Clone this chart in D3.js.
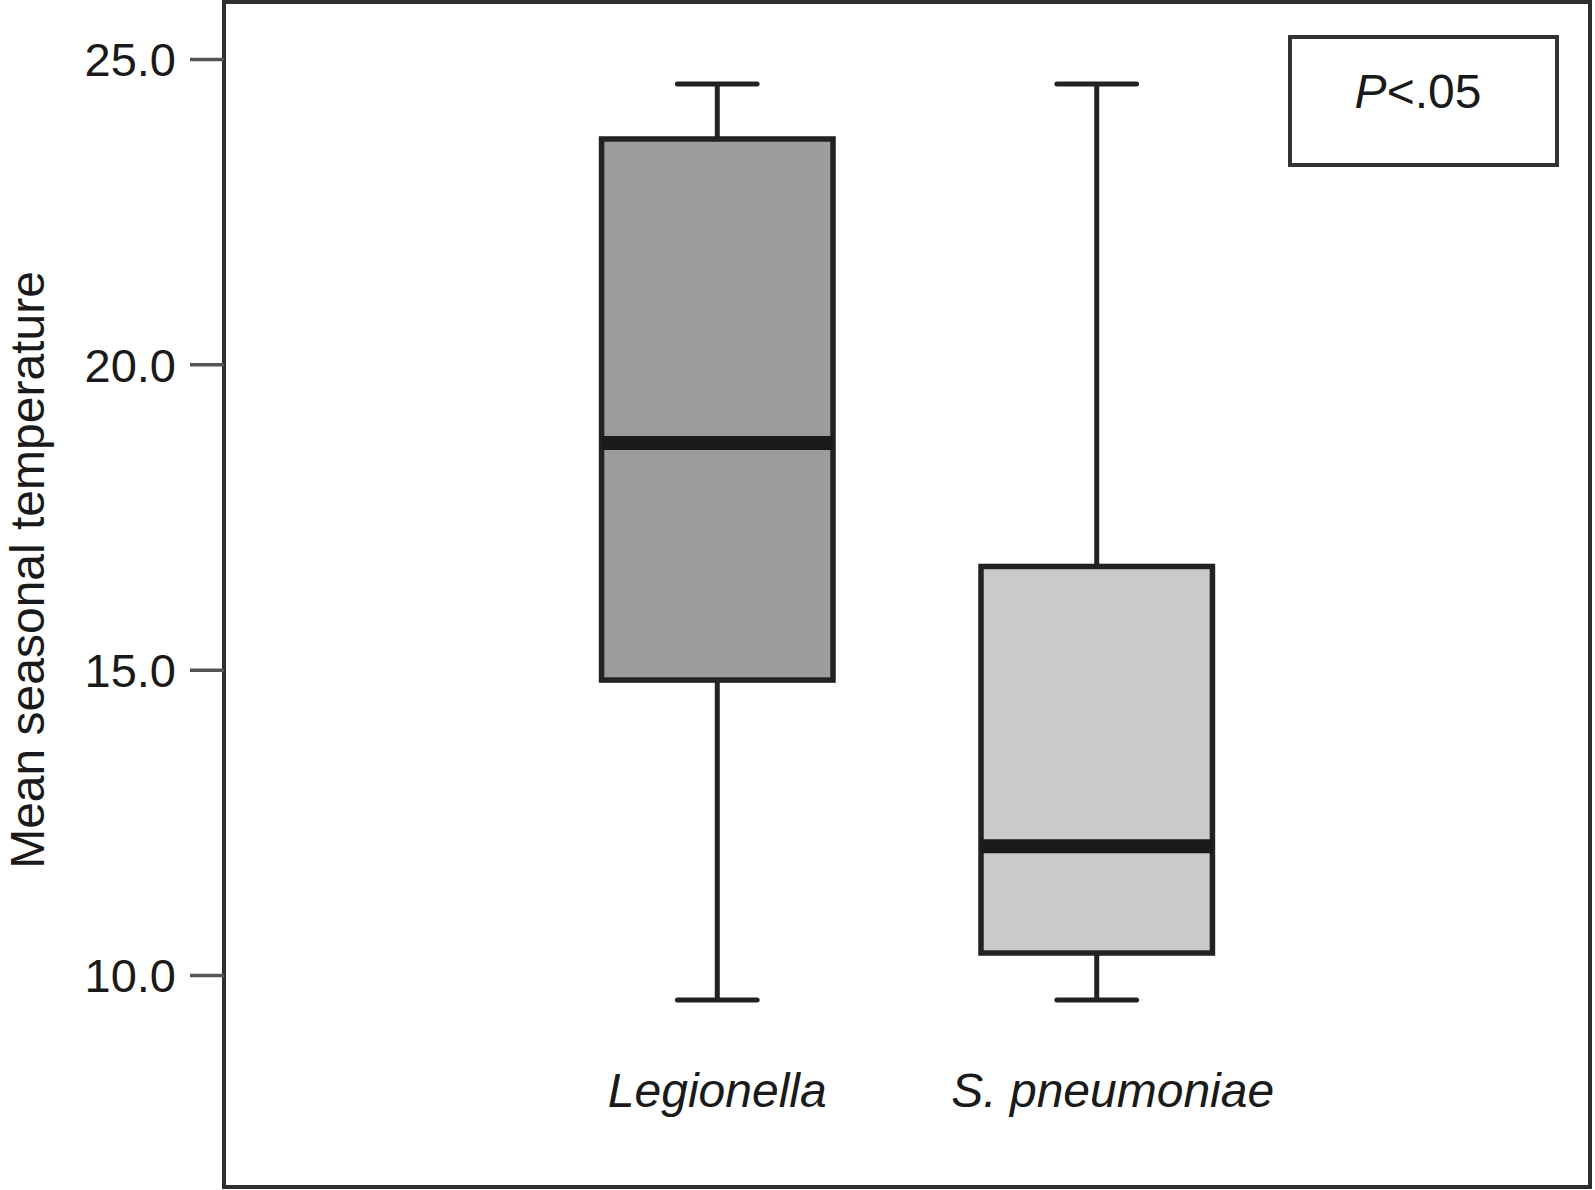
<!DOCTYPE html>
<html>
<head>
<meta charset="utf-8">
<script src="https://cdn.jsdelivr.net/npm/d3@7"></script>
<style>
  html, body { margin: 0; padding: 0; background: #fff; }
  svg { display: block; font-family: "Liberation Sans", Arial, Helvetica, sans-serif; }
</style>
</head>
<body>
<svg id="chart" width="1595" height="1190"></svg>
<script>
// ---- data ----
const categories = ["Legionella", "S. pneumoniae"];
const whiskerLow = [9.59, 9.59];
const q1 = [14.83, 10.36];
const median = [18.71, 12.11];
const q3 = [23.69, 16.69];
const whiskerHigh = [24.59, 24.59];
const boxFills = ["#9b9c9e", "#c9cacc"];
const yTicks = [10, 15, 20, 25];
const yLabel = "Mean seasonal temperature";
const pText = ["P", "<.05"];

// ---- layout ----
const svg = d3.select("#chart");
const frame = { left: 224, right: 1590, top: 2, bottom: 1187 };

const y = d3.scaleLinear().domain([10, 25]).range([975, 59]);
const x = d3.scalePoint().domain(categories).range([frame.left, frame.right]).padding(1.30);
const step = x.step();
const boxW = step * 0.61;
const capW = step * 0.21;

const data = categories.map((c, i) => ({
  c, lo: whiskerLow[i], q1: q1[i], med: median[i], q3: q3[i], hi: whiskerHigh[i], fill: boxFills[i]
}));

const stroke = "#222";

// whiskers
const g = svg.append("g");
g.selectAll(".wl").data(data).join("line")
  .attr("x1", d => x(d.c)).attr("x2", d => x(d.c))
  .attr("y1", d => y(d.lo)).attr("y2", d => y(d.q1))
  .attr("stroke", stroke).attr("stroke-width", 5);
g.selectAll(".wh").data(data).join("line")
  .attr("x1", d => x(d.c)).attr("x2", d => x(d.c))
  .attr("y1", d => y(d.hi)).attr("y2", d => y(d.q3))
  .attr("stroke", stroke).attr("stroke-width", 5);
// caps
["lo", "hi"].forEach(k => {
  g.selectAll(".cap-" + k).data(data).join("line")
    .attr("x1", d => x(d.c) - capW / 2).attr("x2", d => x(d.c) + capW / 2)
    .attr("y1", d => y(d[k])).attr("y2", d => y(d[k]))
    .attr("stroke", stroke).attr("stroke-width", 5).attr("stroke-linecap", "round");
});
// boxes
g.selectAll(".box").data(data).join("rect")
  .attr("x", d => x(d.c) - boxW / 2).attr("width", boxW)
  .attr("y", d => y(d.q3)).attr("height", d => y(d.q1) - y(d.q3))
  .attr("fill", d => d.fill).attr("stroke", stroke).attr("stroke-width", 5.5);
// medians
g.selectAll(".med").data(data).join("line")
  .attr("x1", d => x(d.c) - boxW / 2).attr("x2", d => x(d.c) + boxW / 2)
  .attr("y1", d => y(d.med)).attr("y2", d => y(d.med))
  .attr("stroke", "#1a1a1a").attr("stroke-width", 14);

// frame
svg.append("rect")
  .attr("x", frame.left).attr("y", frame.top)
  .attr("width", frame.right - frame.left).attr("height", frame.bottom - frame.top)
  .attr("fill", "none").attr("stroke", "#2e2e2e").attr("stroke-width", 4);

// y axis
const yAxis = d3.axisLeft(y).tickValues(yTicks).tickFormat(d3.format(".1f"))
  .tickSize(34).tickPadding(14);
const ya = svg.append("g").attr("transform", `translate(${frame.left},0)`).call(yAxis);
ya.select(".domain").remove();
ya.selectAll(".tick line").attr("stroke", "#555").attr("stroke-width", 3.5);
ya.selectAll(".tick text").attr("font-size", 47).attr("fill", "#1a1a1a").attr("dy", "0.36em");

// y label
svg.append("text")
  .attr("transform", `translate(44,570) rotate(-90)`)
  .attr("text-anchor", "middle")
  .attr("font-size", 48).attr("fill", "#1a1a1a")
  .text(yLabel);

// category labels
svg.selectAll(".cat").data(categories).join("text")
  .attr("x", (d, i) => x(d) + (i === 1 ? 16 : 0))
  .attr("y", 1107)
  .attr("text-anchor", "middle")
  .attr("font-size", 48).attr("font-style", "italic").attr("fill", "#1a1a1a")
  .text(d => d);

// P box
svg.append("rect")
  .attr("x", 1290).attr("y", 37).attr("width", 267).attr("height", 128)
  .attr("fill", "#fff").attr("stroke", "#333").attr("stroke-width", 4);
const pt = svg.append("text")
  .attr("x", 1418).attr("y", 108).attr("text-anchor", "middle")
  .attr("font-size", 48).attr("fill", "#1a1a1a");
pt.append("tspan").attr("font-style", "italic").text(pText[0]);
pt.append("tspan").text(pText[1]);
</script>
</body>
</html>
